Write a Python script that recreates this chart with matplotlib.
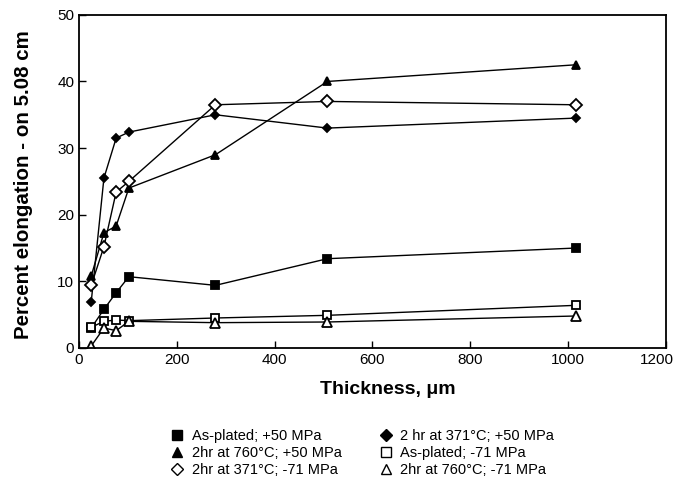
import matplotlib
matplotlib.use("Agg")
import matplotlib.pyplot as plt
from matplotlib.lines import Line2D
from matplotlib.transforms import ScaledTranslation

plt.rcParams['font.family'] = ['Liberation Sans', 'DejaVu Sans']

thickness = [25, 51, 76, 102, 279, 508, 1016]

asplated_p50 = [3.0, 5.8, 8.3, 10.7, 9.4, 13.4, 15.0]
hr371_p50 = [6.9, 25.5, 31.5, 32.4, 35.0, 33.0, 34.5]
hr760_p50 = [10.8, 17.3, 18.3, 24.0, 29.0, 40.0, 42.5]
asplated_m71 = [3.1, 4.0, 4.2, 4.1, 4.5, 4.9, 6.4]
hr371_m71 = [9.4, 15.2, 23.4, 25.0, 36.5, 37.0, 36.5]
hr760_m71 = [0.3, 3.0, 2.6, 4.0, 3.8, 3.9, 4.8]

labels = ['As-plated; +50 MPa', '2 hr at 371\u00b0C; +50 MPa',
          '2hr at 760\u00b0C; +50 MPa', 'As-plated; -71 MPa',
          '2hr at 371\u00b0C; -71 MPa', '2hr at 760\u00b0C; -71 MPa']

fig = plt.figure(figsize=(6.78, 4.78), dpi=100)
ax = fig.add_axes([0.1165, 0.272, 0.8655, 0.697])

series = [
    (asplated_p50, 's', 'k', 5.5),
    (hr371_p50, 'D', 'k', 4.5),
    (hr760_p50, '^', 'k', 6),
    (asplated_m71, 's', 'white', 6),
    (hr371_m71, 'D', 'white', 6),
    (hr760_m71, '^', 'white', 6.5),
]
for vals, m, fc, ms in series:
    ax.plot(thickness, vals, color='k', lw=1, marker=m, ms=ms,
            mfc=fc, mec='k', mew=1.3)

ax.set_xlim(0, 1200)
ax.set_ylim(0, 50)
ax.set_xticks(range(0, 1201, 200))
ax.set_yticks(range(0, 51, 10))
ax.tick_params(direction='in', labelsize=11, length=5, width=1)
for s in ax.spines.values():
    s.set_linewidth(1.3)
# nudge the last x label so it stays inside the figure
last = ax.get_xticklabels()[-1]
last.set_transform(last.get_transform() + ScaledTranslation(-0.09, 0, fig.dpi_scale_trans))

ax.set_xlabel('Thickness, \u03bcm', fontsize=14, fontweight='bold')
ax.xaxis.set_label_coords(0.526, -0.126)
ax.xaxis.label.set_va('center')
ax.set_ylabel('Percent elongation - on 5.08 cm', fontsize=14.8, fontweight='bold')
ax.yaxis.set_label_coords(-0.095, 0.49)
ax.yaxis.label.set_va('center')

order = [0, 2, 4, 1, 3, 5]
handles = []
for i in order:
    vals, m, fc, ms = series[i]
    handles.append(Line2D([], [], ls='none', marker=m, ms=7 if m != 'D' else 6,
                          mfc=fc, mec='k', mew=1))
leg = fig.legend(handles, [labels[i] for i in order], ncol=2, loc='upper center',
                 bbox_to_anchor=(0.535, 0.118), frameon=False, fontsize=10.5,
                 handlelength=0.8, handletextpad=0.6, columnspacing=2.6,
                 labelspacing=0.22, borderpad=0)

fig.savefig('out.png', dpi=100)
